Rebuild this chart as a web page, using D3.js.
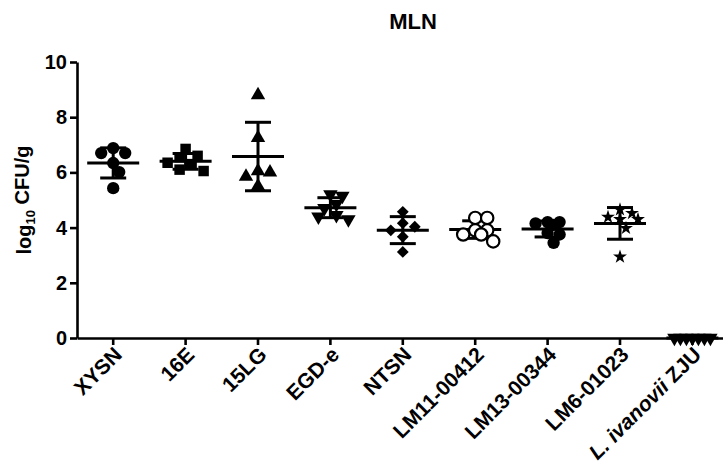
<!DOCTYPE html>
<html>
<head>
<meta charset="utf-8">
<title>MLN</title>
<script src="https://d3js.org/d3.v7.min.js"></script>
<style>
  body { margin: 0; background: #fff; }
  svg text { font-family: "Liberation Sans", Arial, sans-serif; font-weight: bold; }
</style>
</head>
<body>
<div id="chart"></div>
<script>
// strains on the x axis
var categories = ["XYSN", "16E", "15LG", "EGD-e", "NTSN", "LM11-00412", "LM13-00344", "LM6-01023", "L. ivanovii ZJU"];

// log10 CFU/g per mouse
var xysn    = [6.88, 6.70, 6.70, 6.34, 6.01, 5.43];
var e16     = [6.85, 6.55, 6.60, 6.35, 6.30, 6.10, 6.05];
var lg15    = [8.80, 7.25, 6.05, 6.00, 5.85, 5.50];
var egde    = [5.15, 5.20, 4.85, 4.70, 4.45, 4.40, 4.30];
var ntsn    = [4.57, 4.16, 4.03, 3.90, 3.67, 3.12];
var lm11    = [4.35, 4.35, 3.90, 3.90, 3.75, 3.75, 3.50];
var lm13    = [4.20, 4.15, 4.20, 4.10, 3.80, 3.75, 3.45];
var lm6     = [4.65, 4.52, 4.38, 4.30, 4.30, 3.98, 2.94];
var ivanovii = [0, 0, 0, 0, 0, 0, 0];

var yTicks = [0, 2, 4, 6, 8, 10];

var groups = [xysn, e16, lg15, egde, ntsn, lm11, lm13, lm6, ivanovii];
// marker style per strain
var shapes = ["circle", "square", "triangle", "triangleDown", "diamond", "openCircle", "circle", "star", "triangleDown"];

var width = 723, height = 474;
var margin = {top: 62, left: 77, bottom: 136};

var svg = d3.select("#chart").append("svg")
    .attr("width", width)
    .attr("height", height);

var x = d3.scaleBand()
    .domain(categories)
    .range([margin.left, margin.left + 72.4 * categories.length]);

var y = d3.scaleLinear()
    .domain([0, 10])
    .range([height - margin.bottom, margin.top]);

// title
svg.append("text")
    .attr("x", 413)
    .attr("y", 29)
    .attr("text-anchor", "middle")
    .style("font-size", "22px")
    .text("MLN");

// y label
var ylab = svg.append("text")
    .attr("transform", "translate(31," + y(5) + ")rotate(-90)")
    .attr("text-anchor", "middle")
    .style("font-size", "20px");
ylab.append("tspan").text("log");
ylab.append("tspan").attr("dy", "0.3em").style("font-size", "13px").text("10");
ylab.append("tspan").attr("dy", "-0.3em").text(" CFU/g");

// y axis
var yAxis = svg.append("g")
    .attr("transform", "translate(" + margin.left + ",0)")
    .call(d3.axisLeft(y).tickValues(yTicks).tickSize(7).tickSizeOuter(0).tickPadding(3));
yAxis.selectAll("text").style("font-size", "20px").attr("fill", "#000");

// x axis
var xAxis = svg.append("g")
    .attr("transform", "translate(0," + y(0) + ")")
    .call(d3.axisBottom(x).tickSize(7).tickSizeOuter(0).tickFormat(""));

svg.selectAll(".domain, .tick line")
    .attr("stroke", "#000")
    .attr("stroke-width", 2.6);

// rotated x labels
var labels = svg.selectAll("text.xlab")
    .data(categories)
    .enter()
    .append("text")
    .attr("class", "xlab")
    .attr("text-anchor", "end")
    .attr("transform", function(d) {
        return "translate(" + (x(d) + x.bandwidth() / 2 + 10) + "," + (y(0) + 18) + ")rotate(-45)";
    })
    .style("font-size", "21px");
labels.each(function(d) {
    var t = d3.select(this);
    if (d.indexOf("L. ivanovii") === 0) {
        t.append("tspan").style("font-style", "italic").text("L. ivanovii");
        t.append("tspan").text(" ZJU");
    } else {
        t.text(d);
    }
});

// simple swarm: spread overlapping points sideways
function swarm(values) {
    var step = 6, D = 10, maxK = 3;
    var placed = [];
    var order = values.map(function(v, i) { return i; })
        .sort(function(a, b) { return values[b] - values[a]; });
    var out = new Array(values.length);
    order.forEach(function(i) {
        var py = y(values[i]);
        var best = null, bestDist = -1;
        for (var k = 0; k <= maxK; k++) {
            var cands = k === 0 ? [0] : [k * step, -k * step];
            for (var c = 0; c < cands.length; c++) {
                var dx = cands[c];
                var minD = Infinity;
                placed.forEach(function(p) {
                    var dd = Math.hypot(p.dx - dx, p.py - py);
                    if (dd < minD) minD = dd;
                });
                if (minD >= D) { best = dx; bestDist = Infinity; break; }
                if (minD > bestDist) { bestDist = minD; best = dx; }
            }
            if (bestDist === Infinity) break;
        }
        placed.push({dx: best, py: py});
        out[i] = best;
    });
    return out;
}

function symbolPath(shape) {
    if (shape === "circle" || shape === "openCircle") return d3.symbol(d3.symbolCircle, 120)();
    if (shape === "square") return d3.symbol(d3.symbolSquare, 110)();
    if (shape === "diamond") return d3.symbol(d3.symbolSquare, 70)();
    if (shape === "star") return d3.symbol(d3.symbolStar, 60)();
    return d3.symbol(d3.symbolTriangle, 90)();
}
function symbolRot(shape) {
    if (shape === "triangleDown") return 180;
    if (shape === "diamond") return 45;
    return 0;
}

groups.forEach(function(vals, gi) {
    var cx = x(categories[gi]) + x.bandwidth() / 2;
    var mean = d3.mean(vals);
    var sd = d3.deviation(vals) || 0;
    var g = svg.append("g");

    // mean line
    g.append("line")
        .attr("x1", cx - 26).attr("x2", cx + 26)
        .attr("y1", y(mean)).attr("y2", y(mean))
        .attr("stroke", "#000").attr("stroke-width", 3);
    // SD bar
    g.append("line")
        .attr("x1", cx).attr("x2", cx)
        .attr("y1", y(mean + sd)).attr("y2", y(mean - sd))
        .attr("stroke", "#000").attr("stroke-width", 3);
    [mean + sd, mean - sd].forEach(function(v) {
        g.append("line")
            .attr("x1", cx - 13).attr("x2", cx + 13)
            .attr("y1", y(v)).attr("y2", y(v))
            .attr("stroke", "#000").attr("stroke-width", 3);
    });

    var offs = swarm(vals);
    var shape = shapes[gi];
    g.selectAll("path.pt")
        .data(vals)
        .enter()
        .append("path")
        .attr("class", "pt")
        .attr("d", symbolPath(shape))
        .attr("transform", function(d, i) {
            return "translate(" + (cx + offs[i]) + "," + y(d) + ")rotate(" + symbolRot(shape) + ")";
        })
        .attr("fill", shape === "openCircle" ? "#fff" : "#000")
        .attr("stroke", "#000")
        .attr("stroke-width", shape === "openCircle" ? 2.2 : 0);
});
</script>
</body>
</html>
